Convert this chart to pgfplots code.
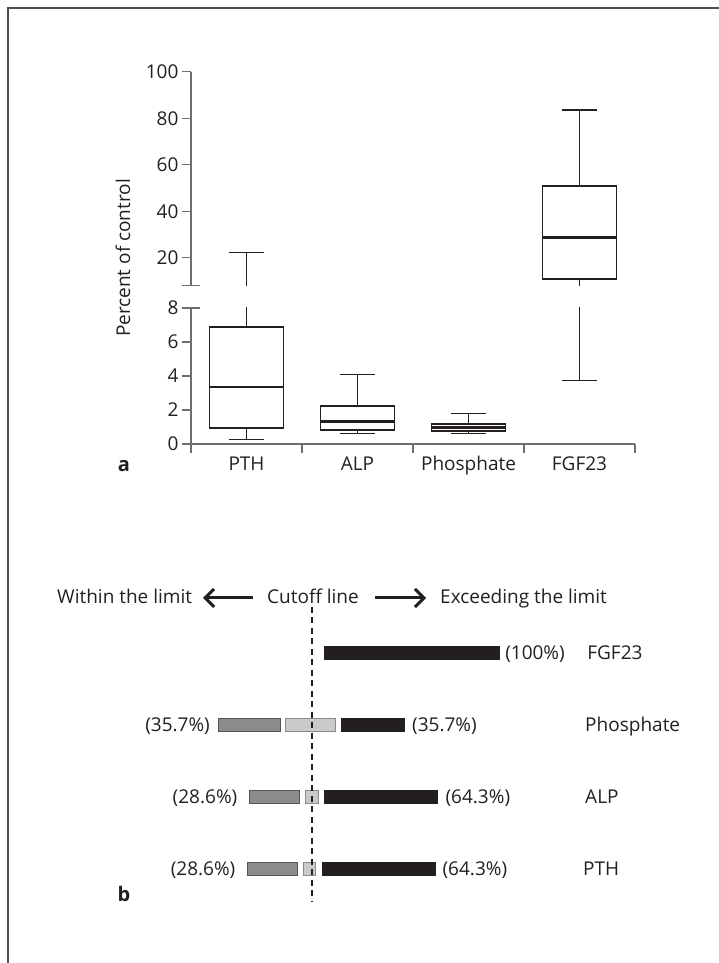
\documentclass[border=0pt]{standalone}
\usepackage{fontspec}
\setmainfont{Open Sans}
\usepackage{pgfplots}
\pgfplotsset{compat=1.18}
\usepgfplotslibrary{statistics}
\usetikzlibrary{arrows.meta}
\definecolor{ink}{HTML}{231F20}
\definecolor{axgray}{HTML}{6D6E71}
\definecolor{framegray}{HTML}{4D4D4D}
\definecolor{darkbar}{HTML}{8C8C8C}
\definecolor{darkbarline}{HTML}{555555}
\definecolor{lightbar}{HTML}{CACACA}
\definecolor{lightbarline}{HTML}{8A8A8A}
\newcommand{\fs}{\fontsize{19}{23}\selectfont}

\pgfplotsset{
  panelA/.style={
    scale only axis, width=444pt, xmin=0.5, xmax=4.5,
    axis y line*=left,
    axis line style={axgray, line width=1.2pt},
    every tick/.style={axgray, line width=1.2pt},
    tick align=outside, major tick length=9pt,
    tick label style={font=\fs, text=ink},
    /pgf/number format/assume math mode=true,
    extra y tick style={tick align=center, major tick length=18pt, grid=none},
    boxplot/draw direction=y,
    boxplot/box extend=0.667,
    boxplot/whisker extend=0.324,
    boxplot/every box/.style={line width=1.8pt},
    boxplot/every median/.style={line width=2.7pt},
  },
  mybox/.style={ink, line width=1.2pt, solid, mark=none},
}
\newcommand{\boxes}{%
  \addplot[mybox, boxplot prepared={draw position=1, lower whisker=0.27, lower quartile=0.92, median=3.35, upper quartile=6.9, upper whisker=22.2}] coordinates {};
  \addplot[mybox, boxplot prepared={draw position=2, lower whisker=0.62, lower quartile=0.8, median=1.32, upper quartile=2.22, upper whisker=4.1}] coordinates {};
  \addplot[mybox, boxplot prepared={draw position=3, lower whisker=0.6, lower quartile=0.77, median=0.95, upper quartile=1.16, upper whisker=1.78}] coordinates {};
  \addplot[mybox, boxplot prepared={draw position=4, lower whisker=3.75, lower quartile=11, median=28.6, upper quartile=51, upper whisker=83.5}] coordinates {};
}

\begin{document}
\begin{tikzpicture}[lab/.style={font=\fs, text=ink, inner sep=0pt, yshift=-6.8pt}]
\path[use as bounding box] (0pt,0pt) rectangle (719pt,963pt);
\draw[framegray, line width=1.5pt] (8pt,0pt) -- (8pt,955pt) -- (719pt,955pt);

% ---------- panel a : lower part ----------
\begin{axis}[panelA, at={(191pt,519pt)}, anchor=south west, height=136pt,
  ymin=0, ymax=8,
  axis x line*=bottom,
  xtick={0.5,1.5,2.5,3.5,4.5}, xticklabels={PTH,ALP,Phosphate,FGF23},
  x tick label as interval,
  ytick={0,2,4,6}, extra y ticks={8}]
\boxes
\end{axis}

% ---------- panel a : upper part ----------
\begin{axis}[panelA, at={(191pt,677.3pt)}, anchor=south west, height=214pt,
  ymin=8, ymax=100,
  axis x line=none,
  ytick={20,40,60,80,100}, extra y ticks={8}, extra y tick labels={}]
\boxes
\end{axis}

\node[rotate=90, font=\fs, text=ink] at (123pt,705pt) {Percent of control};
\node[font=\bfseries\fontsize{20}{24}\selectfont, text=ink] at (124pt,497pt) {a};

% ---------- panel b ----------
\begin{axis}[at={(0pt,0pt)}, anchor=south west, scale only axis,
  width=719pt, height=963pt,
  xmin=-178, xmax=232.857, ymin=-0.3085, ymax=13.053,
  hide axis, clip=false]
% FGF23 (row 4)
\addplot[fill=ink, draw=ink, line width=0.4pt] coordinates {(7.4,3.9098) (107.4,3.9098) (107.4,4.0902) (7.4,4.0902)} -- cycle;
% Phosphate (row 3)
\addplot[fill=darkbar, draw=darkbarline, line width=0.8pt] coordinates {(-53.3,2.9098) (-17.6,2.9098) (-17.6,3.0902) (-53.3,3.0902)} -- cycle;
\addplot[fill=lightbar, draw=lightbarline, line width=0.8pt] coordinates {(-14.7,2.9098) (13.9,2.9098) (13.9,3.0902) (-14.7,3.0902)} -- cycle;
\addplot[fill=ink, draw=ink, line width=0.4pt] coordinates {(17.0,2.9098) (52.7,2.9098) (52.7,3.0902) (17.0,3.0902)} -- cycle;
% ALP (row 2)
\addplot[fill=darkbar, draw=darkbarline, line width=0.8pt] coordinates {(-35.5,1.9098) (-6.9,1.9098) (-6.9,2.0902) (-35.5,2.0902)} -- cycle;
\addplot[fill=lightbar, draw=lightbarline, line width=0.8pt] coordinates {(-3.4,1.9098) (3.7,1.9098) (3.7,2.0902) (-3.4,2.0902)} -- cycle;
\addplot[fill=ink, draw=ink, line width=0.4pt] coordinates {(7.4,1.9098) (71.7,1.9098) (71.7,2.0902) (7.4,2.0902)} -- cycle;
% PTH (row 1)
\addplot[fill=darkbar, draw=darkbarline, line width=0.8pt] coordinates {(-36.6,0.9098) (-8.0,0.9098) (-8.0,1.0902) (-36.6,1.0902)} -- cycle;
\addplot[fill=lightbar, draw=lightbarline, line width=0.8pt] coordinates {(-4.9,0.9098) (2.2,0.9098) (2.2,1.0902) (-4.9,1.0902)} -- cycle;
\addplot[fill=ink, draw=ink, line width=0.4pt] coordinates {(6.1,0.9098) (70.4,0.9098) (70.4,1.0902) (6.1,1.0902)} -- cycle;

\node[lab, anchor=base west] at (axis cs:110.6,4) {(100\%)};
\node[lab, anchor=base west] at (axis cs:157.5,4) {FGF23};
\node[lab, anchor=base east] at (axis cs:-58.0,3) {(35.7\%)};
\node[lab, anchor=base west] at (axis cs:57.4,3) {(35.7\%)};
\node[lab, anchor=base west] at (axis cs:156.3,3) {Phosphate};
\node[lab, anchor=base east] at (axis cs:-42.3,2) {(28.6\%)};
\node[lab, anchor=base west] at (axis cs:76.5,2) {(64.3\%)};
\node[lab, anchor=base west] at (axis cs:156.3,2) {ALP};
\node[lab, anchor=base east] at (axis cs:-43.4,1) {(28.6\%)};
\node[lab, anchor=base west] at (axis cs:74.8,1) {(64.3\%)};
\node[lab, anchor=base west] at (axis cs:155.1,1) {PTH};
\end{axis}

\draw[ink, line width=2pt, dash pattern=on 6pt off 4.5pt] (311.5pt,356.3pt) -- (311.5pt,61.3pt);

\node[font=\fs, text=ink, inner sep=0pt, anchor=base west] at (57pt,359pt) {Within the limit};
\draw[ink, line width=3pt, -{Straight Barb[length=9pt,width=18pt]}] (253pt,365pt) -- (203pt,365pt);
\node[font=\fs, text=ink, inner sep=0pt, anchor=base west] at (267pt,359pt) {Cutoff line};
\draw[ink, line width=3pt, -{Straight Barb[length=9pt,width=18pt]}] (375pt,365pt) -- (426pt,365pt);
\node[font=\fs, text=ink, inner sep=0pt, anchor=base west] at (440pt,359pt) {Exceeding the limit};

\node[font=\bfseries\fontsize{20}{24}\selectfont, text=ink] at (124pt,69pt) {b};
\end{tikzpicture}
\end{document}
